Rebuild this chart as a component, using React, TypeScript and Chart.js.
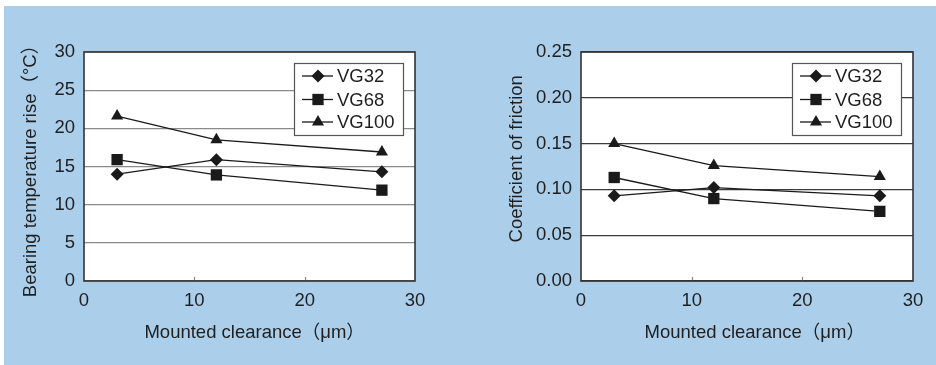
import React, { useEffect, useRef } from 'react';
import { Chart, registerables } from 'chart.js';
import { drawPoint } from 'chart.js/helpers';

Chart.register(...registerables);

// ---- data ----
const clearance = [3, 12, 27];
const seriesNames = ['VG32', 'VG68', 'VG100'];
const tempVG32 = [14.0, 15.9, 14.3];
const tempVG68 = [15.9, 13.9, 11.9];
const tempVG100 = [21.6, 18.5, 16.9];
const fricVG32 = [0.093, 0.102, 0.093];
const fricVG68 = [0.113, 0.09, 0.076];
const fricVG100 = [0.15, 0.126, 0.114];
const xTicks = [0, 10, 20, 30];
const tempTicks = [0, 5, 10, 15, 20, 25, 30];
const fricTicks = [0, 0.05, 0.1, 0.15, 0.2, 0.25];
const innerXTicks = [10, 20];

const pointStyles = ['rectRot', 'rect', 'triangle'];
const pointRadii = [6.5, 8, 7];
const FONT = "'Liberation Sans', Arial, 'Noto Sans CJK JP', sans-serif";
const TEXT = '#1f1f1f';

const panelPlugin = {
  id: 'panel',
  beforeDraw(chart: any) {
    const { ctx, chartArea: a } = chart;
    ctx.save();
    ctx.fillStyle = '#ffffff';
    ctx.fillRect(a.left, a.top, a.right - a.left, a.bottom - a.top);
    ctx.restore();
  },
  afterDraw(chart: any) {
    const { ctx, chartArea: a } = chart;
    const xs = chart.scales.x;
    ctx.save();
    // inward tick marks on the x axis
    ctx.strokeStyle = '#888';
    ctx.lineWidth = 1.2;
    innerXTicks.forEach((v) => {
      const px = Math.round(xs.getPixelForValue(v)) + 0.5;
      ctx.beginPath();
      ctx.moveTo(px, a.bottom);
      ctx.lineTo(px, a.bottom - 4);
      ctx.stroke();
    });
    // frame
    ctx.strokeStyle = '#333';
    ctx.lineWidth = 1.6;
    ctx.strokeRect(a.left, a.top, a.right - a.left, a.bottom - a.top);

    // legend
    const bw = 109;
    const bh = 72;
    const bx = a.right - 12 - bw;
    const by = a.top + 11;
    ctx.fillStyle = '#fff';
    ctx.fillRect(bx, by, bw, bh);
    ctx.strokeStyle = '#555';
    ctx.lineWidth = 1.2;
    ctx.strokeRect(bx + 0.5, by + 0.5, bw, bh);
    const rows = [13, 36.5, 59];
    chart.data.datasets.forEach((ds: any, i: number) => {
      const cy = by + rows[i];
      ctx.strokeStyle = '#1a1a1a';
      ctx.lineWidth = 1.3;
      ctx.beginPath();
      ctx.moveTo(bx + 8, cy);
      ctx.lineTo(bx + 39, cy);
      ctx.stroke();
      ctx.fillStyle = '#1a1a1a';
      drawPoint(ctx, { pointStyle: ds.pointStyle, radius: ds.pointRadius, rotation: 0, borderWidth: 0 }, bx + 24, cy);
      ctx.fillStyle = TEXT;
      ctx.font = `18.5px ${FONT}`;
      ctx.textBaseline = 'middle';
      ctx.textAlign = 'left';
      ctx.fillText(ds.label, bx + 43, cy + 1);
    });
    ctx.restore();
  },
};

type PanelProps = {
  left: number;
  width: number;
  padRight: number;
  yWidth: number;
  yTitlePad: number;
  yTitle: string;
  xTitle: string;
  series: number[][];
  yTickValues: number[];
  yMax: number;
  decimals: number;
  gridColor: string;
};

function Panel(p: PanelProps) {
  const ref = useRef<HTMLCanvasElement>(null);
  useEffect(() => {
    if (!ref.current) return;
    const chart = new Chart(ref.current, {
      type: 'line',
      data: {
        datasets: p.series.map((vals, i) => ({
          label: seriesNames[i],
          data: clearance.map((x, j) => ({ x, y: vals[j] })),
          borderColor: '#1a1a1a',
          backgroundColor: '#1a1a1a',
          borderWidth: 1.3,
          pointStyle: pointStyles[i] as any,
          pointRadius: pointRadii[i],
          pointBorderWidth: 0,
          pointBackgroundColor: '#1a1a1a',
          tension: 0,
        })),
      },
      options: {
        animation: false,
        responsive: false,
        devicePixelRatio: 1,
        layout: { padding: { left: 0, top: 46, right: p.padRight, bottom: 0 } },
        plugins: { legend: { display: false }, tooltip: { enabled: false } },
        events: [],
        scales: {
          x: {
            type: 'linear',
            min: 0,
            max: 30,
            afterBuildTicks: (s: any) => {
              s.ticks = xTicks.map((v) => ({ value: v }));
            },
            afterFit: (s: any) => {
              s.height = 83;
            },
            grid: { display: false, drawTicks: false },
            border: { display: false },
            ticks: { color: TEXT, font: { size: 18.5, family: FONT }, padding: 9, maxRotation: 0 },
            title: {
              display: true,
              text: p.xTitle,
              color: TEXT,
              font: { size: 18.5, family: FONT },
              padding: { top: 0, bottom: 20 },
            },
          },
          y: {
            type: 'linear',
            min: 0,
            max: p.yMax,
            afterBuildTicks: (s: any) => {
              s.ticks = p.yTickValues.map((v) => ({ value: v }));
            },
            afterFit: (s: any) => {
              s.width = p.yWidth;
            },
            grid: { color: p.gridColor, lineWidth: 1.2, drawTicks: false },
            border: { display: false },
            ticks: {
              color: TEXT,
              font: { size: 18.5, family: FONT },
              padding: 9,
              callback: (v: any) => Number(v).toFixed(p.decimals),
            },
            title: {
              display: true,
              text: p.yTitle,
              color: TEXT,
              font: { size: 18.5, family: FONT },
              padding: { top: p.yTitlePad, bottom: 0 },
            },
          },
        },
      },
      plugins: [panelPlugin],
    });
    return () => chart.destroy();
  }, []);
  return (
    <canvas
      ref={ref}
      width={p.width}
      height={358}
      style={{ position: 'absolute', left: p.left, top: 6, width: p.width, height: 358 }}
    />
  );
}

export default function App() {
  return (
    <div style={{ position: 'fixed', left: 0, top: 0, width: 936, height: 365, background: '#fff', overflow: 'hidden' }}>
      <div style={{ position: 'absolute', left: 4, top: 6, width: 932, height: 359, background: '#abcfeb' }} />
      <Panel
        left={4}
        width={462}
        padRight={51}
        yWidth={80}
        yTitlePad={16}
        yTitle={'Bearing temperature rise（°C）'}
        xTitle={'  Mounted clearance（μm）'}
        series={[tempVG32, tempVG68, tempVG100]}
        yTickValues={tempTicks}
        yMax={30}
        decimals={0}
        gridColor={'#8a8a8a'}
      />
      <Panel
        left={466}
        width={470}
        padRight={23}
        yWidth={115}
        yTitlePad={40}
        yTitle={'   Coefficient of friction'}
        xTitle={'   Mounted clearance（μm）'}
        series={[fricVG32, fricVG68, fricVG100]}
        yTickValues={fricTicks}
        yMax={0.25}
        decimals={2}
        gridColor={'#3a3a3a'}
      />
    </div>
  );
}
